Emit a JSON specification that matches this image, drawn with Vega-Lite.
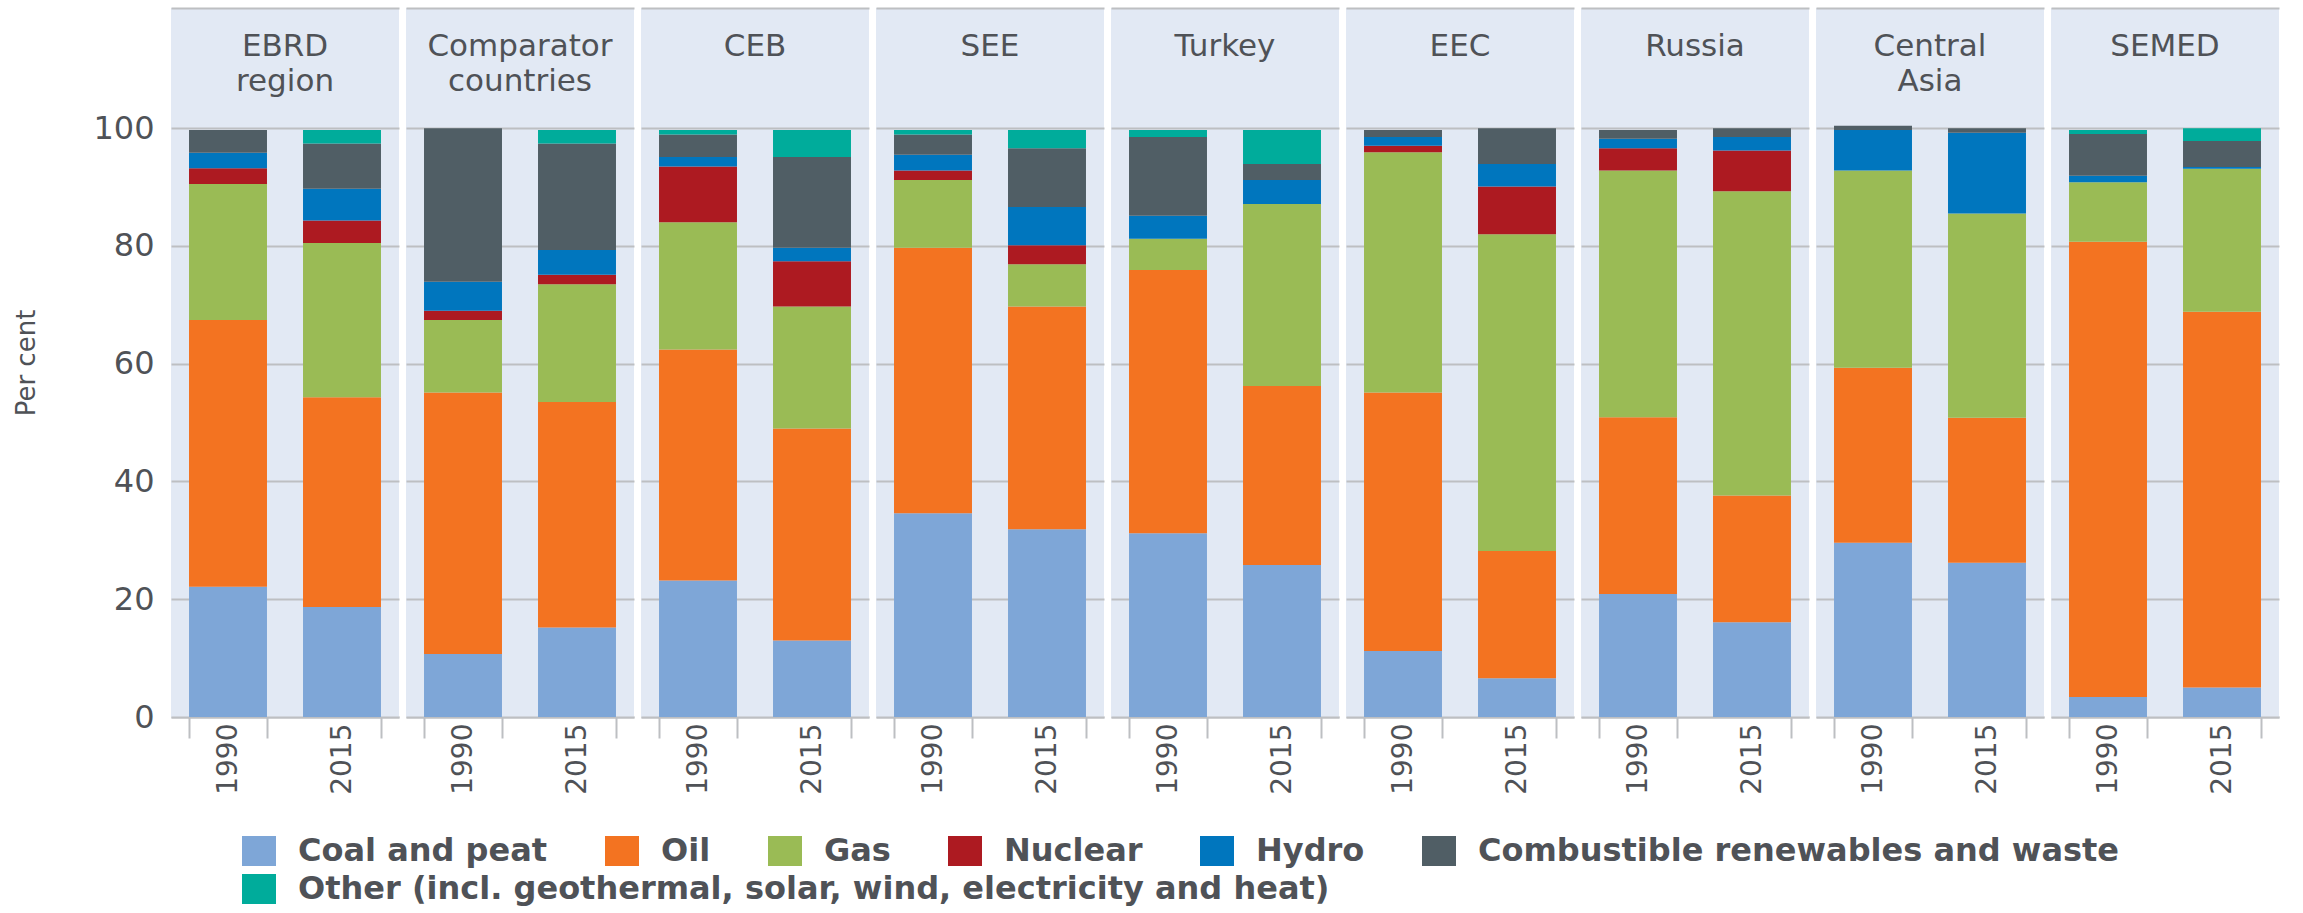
{
  "$schema": "https://vega.github.io/schema/vega-lite/v6.json",
  "padding": {"left": 13, "top": 8, "right": 5, "bottom": 5},
  "background": "white",
  "data": {"values": [
    {"region": "EBRD region", "year": "1990", "source": "Coal and peat", "share": 22.1},
    {"region": "EBRD region", "year": "1990", "source": "Oil", "share": 45.3},
    {"region": "EBRD region", "year": "1990", "source": "Gas", "share": 23.1},
    {"region": "EBRD region", "year": "1990", "source": "Nuclear", "share": 2.7},
    {"region": "EBRD region", "year": "1990", "source": "Hydro", "share": 2.6},
    {"region": "EBRD region", "year": "1990", "source": "Combustible renewables and waste", "share": 3.9},
    {"region": "EBRD region", "year": "2015", "source": "Coal and peat", "share": 18.7},
    {"region": "EBRD region", "year": "2015", "source": "Oil", "share": 35.6},
    {"region": "EBRD region", "year": "2015", "source": "Gas", "share": 26.2},
    {"region": "EBRD region", "year": "2015", "source": "Nuclear", "share": 3.8},
    {"region": "EBRD region", "year": "2015", "source": "Hydro", "share": 5.4},
    {"region": "EBRD region", "year": "2015", "source": "Combustible renewables and waste", "share": 7.7},
    {"region": "EBRD region", "year": "2015", "source": "Other (incl. geothermal, solar, wind, electricity and heat)", "share": 2.3},
    {"region": "Comparator countries", "year": "1990", "source": "Coal and peat", "share": 10.7},
    {"region": "Comparator countries", "year": "1990", "source": "Oil", "share": 44.4},
    {"region": "Comparator countries", "year": "1990", "source": "Gas", "share": 12.3},
    {"region": "Comparator countries", "year": "1990", "source": "Nuclear", "share": 1.6},
    {"region": "Comparator countries", "year": "1990", "source": "Hydro", "share": 4.9},
    {"region": "Comparator countries", "year": "1990", "source": "Combustible renewables and waste", "share": 26.1},
    {"region": "Comparator countries", "year": "2015", "source": "Coal and peat", "share": 15.2},
    {"region": "Comparator countries", "year": "2015", "source": "Oil", "share": 38.3},
    {"region": "Comparator countries", "year": "2015", "source": "Gas", "share": 20.0},
    {"region": "Comparator countries", "year": "2015", "source": "Nuclear", "share": 1.6},
    {"region": "Comparator countries", "year": "2015", "source": "Hydro", "share": 4.2},
    {"region": "Comparator countries", "year": "2015", "source": "Combustible renewables and waste", "share": 18.1},
    {"region": "Comparator countries", "year": "2015", "source": "Other (incl. geothermal, solar, wind, electricity and heat)", "share": 2.3},
    {"region": "CEB", "year": "1990", "source": "Coal and peat", "share": 23.2},
    {"region": "CEB", "year": "1990", "source": "Oil", "share": 39.2},
    {"region": "CEB", "year": "1990", "source": "Gas", "share": 21.6},
    {"region": "CEB", "year": "1990", "source": "Nuclear", "share": 9.5},
    {"region": "CEB", "year": "1990", "source": "Hydro", "share": 1.6},
    {"region": "CEB", "year": "1990", "source": "Combustible renewables and waste", "share": 3.8},
    {"region": "CEB", "year": "1990", "source": "Other (incl. geothermal, solar, wind, electricity and heat)", "share": 0.8},
    {"region": "CEB", "year": "2015", "source": "Coal and peat", "share": 13.0},
    {"region": "CEB", "year": "2015", "source": "Oil", "share": 36.0},
    {"region": "CEB", "year": "2015", "source": "Gas", "share": 20.7},
    {"region": "CEB", "year": "2015", "source": "Nuclear", "share": 7.7},
    {"region": "CEB", "year": "2015", "source": "Hydro", "share": 2.3},
    {"region": "CEB", "year": "2015", "source": "Combustible renewables and waste", "share": 15.4},
    {"region": "CEB", "year": "2015", "source": "Other (incl. geothermal, solar, wind, electricity and heat)", "share": 4.6},
    {"region": "SEE", "year": "1990", "source": "Coal and peat", "share": 34.6},
    {"region": "SEE", "year": "1990", "source": "Oil", "share": 45.1},
    {"region": "SEE", "year": "1990", "source": "Gas", "share": 11.5},
    {"region": "SEE", "year": "1990", "source": "Nuclear", "share": 1.6},
    {"region": "SEE", "year": "1990", "source": "Hydro", "share": 2.7},
    {"region": "SEE", "year": "1990", "source": "Combustible renewables and waste", "share": 3.4},
    {"region": "SEE", "year": "1990", "source": "Other (incl. geothermal, solar, wind, electricity and heat)", "share": 0.8},
    {"region": "SEE", "year": "2015", "source": "Coal and peat", "share": 31.9},
    {"region": "SEE", "year": "2015", "source": "Oil", "share": 37.8},
    {"region": "SEE", "year": "2015", "source": "Gas", "share": 7.2},
    {"region": "SEE", "year": "2015", "source": "Nuclear", "share": 3.2},
    {"region": "SEE", "year": "2015", "source": "Hydro", "share": 6.5},
    {"region": "SEE", "year": "2015", "source": "Combustible renewables and waste", "share": 10.0},
    {"region": "SEE", "year": "2015", "source": "Other (incl. geothermal, solar, wind, electricity and heat)", "share": 3.1},
    {"region": "Turkey", "year": "1990", "source": "Coal and peat", "share": 31.2},
    {"region": "Turkey", "year": "1990", "source": "Oil", "share": 44.7},
    {"region": "Turkey", "year": "1990", "source": "Gas", "share": 5.3},
    {"region": "Turkey", "year": "1990", "source": "Hydro", "share": 3.9},
    {"region": "Turkey", "year": "1990", "source": "Combustible renewables and waste", "share": 13.4},
    {"region": "Turkey", "year": "1990", "source": "Other (incl. geothermal, solar, wind, electricity and heat)", "share": 1.2},
    {"region": "Turkey", "year": "2015", "source": "Coal and peat", "share": 25.8},
    {"region": "Turkey", "year": "2015", "source": "Oil", "share": 30.4},
    {"region": "Turkey", "year": "2015", "source": "Gas", "share": 30.9},
    {"region": "Turkey", "year": "2015", "source": "Hydro", "share": 4.1},
    {"region": "Turkey", "year": "2015", "source": "Combustible renewables and waste", "share": 2.7},
    {"region": "Turkey", "year": "2015", "source": "Other (incl. geothermal, solar, wind, electricity and heat)", "share": 5.8},
    {"region": "EEC", "year": "1990", "source": "Coal and peat", "share": 11.2},
    {"region": "EEC", "year": "1990", "source": "Oil", "share": 43.9},
    {"region": "EEC", "year": "1990", "source": "Gas", "share": 40.8},
    {"region": "EEC", "year": "1990", "source": "Nuclear", "share": 1.1},
    {"region": "EEC", "year": "1990", "source": "Hydro", "share": 1.5},
    {"region": "EEC", "year": "1990", "source": "Combustible renewables and waste", "share": 1.2},
    {"region": "EEC", "year": "2015", "source": "Coal and peat", "share": 6.6},
    {"region": "EEC", "year": "2015", "source": "Oil", "share": 21.6},
    {"region": "EEC", "year": "2015", "source": "Gas", "share": 53.8},
    {"region": "EEC", "year": "2015", "source": "Nuclear", "share": 8.1},
    {"region": "EEC", "year": "2015", "source": "Hydro", "share": 3.8},
    {"region": "EEC", "year": "2015", "source": "Combustible renewables and waste", "share": 6.1},
    {"region": "Russia", "year": "1990", "source": "Coal and peat", "share": 20.9},
    {"region": "Russia", "year": "1990", "source": "Oil", "share": 30.0},
    {"region": "Russia", "year": "1990", "source": "Gas", "share": 41.9},
    {"region": "Russia", "year": "1990", "source": "Nuclear", "share": 3.8},
    {"region": "Russia", "year": "1990", "source": "Hydro", "share": 1.6},
    {"region": "Russia", "year": "1990", "source": "Combustible renewables and waste", "share": 1.5},
    {"region": "Russia", "year": "2015", "source": "Coal and peat", "share": 16.1},
    {"region": "Russia", "year": "2015", "source": "Oil", "share": 21.5},
    {"region": "Russia", "year": "2015", "source": "Gas", "share": 51.7},
    {"region": "Russia", "year": "2015", "source": "Nuclear", "share": 6.9},
    {"region": "Russia", "year": "2015", "source": "Hydro", "share": 2.3},
    {"region": "Russia", "year": "2015", "source": "Combustible renewables and waste", "share": 1.5},
    {"region": "Central Asia", "year": "1990", "source": "Coal and peat", "share": 29.6},
    {"region": "Central Asia", "year": "1990", "source": "Oil", "share": 29.7},
    {"region": "Central Asia", "year": "1990", "source": "Gas", "share": 33.5},
    {"region": "Central Asia", "year": "1990", "source": "Hydro", "share": 6.9},
    {"region": "Central Asia", "year": "1990", "source": "Combustible renewables and waste", "share": 0.7},
    {"region": "Central Asia", "year": "2015", "source": "Coal and peat", "share": 26.2},
    {"region": "Central Asia", "year": "2015", "source": "Oil", "share": 24.6},
    {"region": "Central Asia", "year": "2015", "source": "Gas", "share": 34.7},
    {"region": "Central Asia", "year": "2015", "source": "Hydro", "share": 13.7},
    {"region": "Central Asia", "year": "2015", "source": "Combustible renewables and waste", "share": 0.8},
    {"region": "SEMED", "year": "1990", "source": "Coal and peat", "share": 3.4},
    {"region": "SEMED", "year": "1990", "source": "Oil", "share": 77.3},
    {"region": "SEMED", "year": "1990", "source": "Gas", "share": 10.1},
    {"region": "SEMED", "year": "1990", "source": "Hydro", "share": 1.1},
    {"region": "SEMED", "year": "1990", "source": "Combustible renewables and waste", "share": 7.1},
    {"region": "SEMED", "year": "1990", "source": "Other (incl. geothermal, solar, wind, electricity and heat)", "share": 0.7},
    {"region": "SEMED", "year": "2015", "source": "Coal and peat", "share": 5.0},
    {"region": "SEMED", "year": "2015", "source": "Oil", "share": 63.8},
    {"region": "SEMED", "year": "2015", "source": "Gas", "share": 24.3},
    {"region": "SEMED", "year": "2015", "source": "Hydro", "share": 0.3},
    {"region": "SEMED", "year": "2015", "source": "Combustible renewables and waste", "share": 4.4},
    {"region": "SEMED", "year": "2015", "source": "Other (incl. geothermal, solar, wind, electricity and heat)", "share": 2.2}
  ]},
  "transform": [
    {"calculate": "indexof(['Coal and peat','Oil','Gas','Nuclear','Hydro','Combustible renewables and waste','Other (incl. geothermal, solar, wind, electricity and heat)'], datum.source)", "as": "stackOrder"}
  ],
  "facet": {
    "column": {
      "field": "region", "type": "nominal", "title": null,
      "sort": ["EBRD region", "Comparator countries", "CEB", "SEE", "Turkey", "EEC", "Russia", "Central Asia", "SEMED"],
      "header": {"labels": false, "title": null, "labelPadding": 0, "titlePadding": 0}
    }
  },
  "spacing": {"column": 7},
  "spec": {
    "width": 228,
    "height": 709,
    "view": {"fill": "#E2E9F4", "stroke": null},
    "layer": [
      {
        "mark": {"type": "bar"},
        "encoding": {
          "x": {
            "field": "year", "type": "ordinal", "title": null,
            "scale": {"paddingInner": 0.316, "paddingOuter": 0.158},
            "axis": {
              "labelAngle": -90, "labelFontSize": 28, "labelColor": "#4F5257",
              "tickBand": "extent", "tickSize": 21, "tickColor": "#BDBFC2", "tickWidth": 2,
              "domainColor": "#BDBFC2", "domainWidth": 2, "labelPadding": -15, "grid": false
            }
          },
          "y": {
            "field": "share", "type": "quantitative", "stack": "zero", "title": "Per cent",
            "scale": {"domain": [0, 120.4], "nice": false, "zero": true},
            "axis": {
              "values": [0, 20, 40, 60, 80, 100, 120.4],
              "labelExpr": "datum.value > 100 ? '' : datum.label",
              "grid": true, "gridColor": "#BDBFC2", "gridWidth": 2,
              "ticks": false, "domain": false,
              "labelFontSize": 32, "labelColor": "#4F5257", "labelPadding": 17,
              "titleFontSize": 26, "titleFontWeight": "normal", "titleColor": "#4F5257", "titlePadding": 53
            }
          },
          "color": {
            "field": "source", "type": "nominal",
            "scale": {
              "domain": ["Coal and peat", "Oil", "Gas", "Nuclear", "Hydro", "Combustible renewables and waste", "Other (incl. geothermal, solar, wind, electricity and heat)"],
              "range": ["#7EA6D7", "#F37321", "#9ABB55", "#AD1A21", "#0076BE", "#505E65", "#00AC9B"]
            },
            "legend": {
              "title": null, "orient": "none", "legendX": 71, "legendY": 826,
              "values": ["Coal and peat", "Oil", "Gas", "Nuclear", "Hydro", "Combustible renewables and waste"],
              "direction": "horizontal",
              "labelFontSize": 32, "labelFontWeight": "bold", "labelColor": "#4F5257", "labelLimit": 1500,
              "symbolType": "M-1,-0.88H1V0.88H-1Z", "symbolSize": 1156, "symbolOpacity": 1, "symbolStrokeWidth": 0,
              "columnPadding": 57, "labelOffset": 22, "padding": 0
            }
          },
          "order": {"field": "stackOrder", "type": "quantitative"}
        }
      },
      {
        "transform": [{"filter": "datum.source === 'Other (incl. geothermal, solar, wind, electricity and heat)'"}],
        "mark": {"type": "point", "filled": true, "opacity": 0},
        "encoding": {
          "fill": {
            "field": "source", "type": "nominal",
            "scale": {"domain": ["Other (incl. geothermal, solar, wind, electricity and heat)"], "range": ["#00AC9B"]},
            "legend": {
              "title": null, "orient": "none", "legendX": 71, "legendY": 864,
              "direction": "horizontal",
              "labelFontSize": 32, "labelFontWeight": "bold", "labelColor": "#4F5257", "labelLimit": 1500,
              "symbolType": "M-1,-0.88H1V0.88H-1Z", "symbolSize": 1156, "symbolOpacity": 1, "symbolFillColor": "#00AC9B", "symbolStrokeWidth": 0,
              "labelOffset": 22, "padding": 0
            }
          }
        }
      },
      {
        "transform": [{"filter": "datum.source === 'Oil' && datum.year === '1990'"}],
        "mark": {"type": "text", "lineBreak": " ", "fontSize": 31, "color": "#4F5257", "baseline": "alphabetic", "align": "center", "lineHeight": 35},
        "encoding": {
          "text": {"field": "region", "type": "nominal"},
          "y": {"datum": 112.3, "type": "quantitative"}
        }
      }
    ]
  },
  "config": {
    "font": "DejaVu Sans",
    "view": {"fill": "#E2E9F4", "stroke": null}
  }
}
